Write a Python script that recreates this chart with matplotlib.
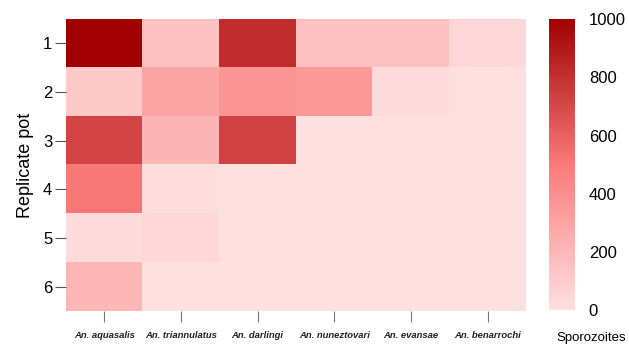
import numpy as np
import matplotlib.pyplot as plt
from matplotlib.colors import LinearSegmentedColormap

plt.rcParams['font.family'] = ['Liberation Sans', 'DejaVu Sans']

species = ['An. aquasalis', 'An. triannulatus', 'An. darlingi',
           'An. nuneztovari', 'An. evansae', 'An. benarrochi']
pots = ['1', '2', '3', '4', '5', '6']

# sporozoite counts per pot (rows) and species (columns)
pot1 = [1000, 150, 820, 150, 150, 40]
pot2 = [110, 300, 370, 350, 30, 0]
pot3 = [720, 210, 730, 0, 0, 0]
pot4 = [510, 15, 0, 0, 0, 0]
pot5 = [20, 40, 0, 0, 0, 0]
pot6 = [200, 0, 0, 0, 0, 0]

counts = np.array([pot1, pot2, pot3, pot4, pot5, pot6])

cmap = LinearSegmentedColormap.from_list(
    'reds', [(0.0, '#ffe0e0'), (0.5, '#fa7a7a'), (1.0, '#a00000')])

fig = plt.figure(figsize=(6.29, 3.5), dpi=100)
ax = fig.add_axes([0.105, 0.111, 0.731, 0.835])
cax = fig.add_axes([0.873, 0.114, 0.041, 0.831])

im = ax.imshow(counts, cmap=cmap, vmin=0, vmax=1000, aspect='auto',
               interpolation='nearest')

for s in ax.spines.values():
    s.set_visible(False)

ax.set_xticks(range(len(species)))
ax.set_xticklabels(species, fontsize=6.8, fontstyle='italic',
                   fontweight='bold', color='#222222')
ax.set_yticks(range(len(pots)))
ax.set_yticklabels(pots, fontsize=12)
ax.tick_params(axis='x', length=8, width=0.8, color='#777777', pad=6)
ax.tick_params(axis='y', length=8, width=0.8, color='#555555', pad=2)
ax.set_ylabel('Replicate pot', fontsize=13, labelpad=6)

cb = fig.colorbar(im, cax=cax, ticks=[0, 200, 400, 600, 800, 1000])
cb.outline.set_visible(False)
cax.tick_params(length=0, labelsize=12, pad=10)
fig.text(0.884, 0.035, 'Sporozoites', fontsize=9.5, ha='left', va='center')

fig.savefig('out.png', dpi=100)
